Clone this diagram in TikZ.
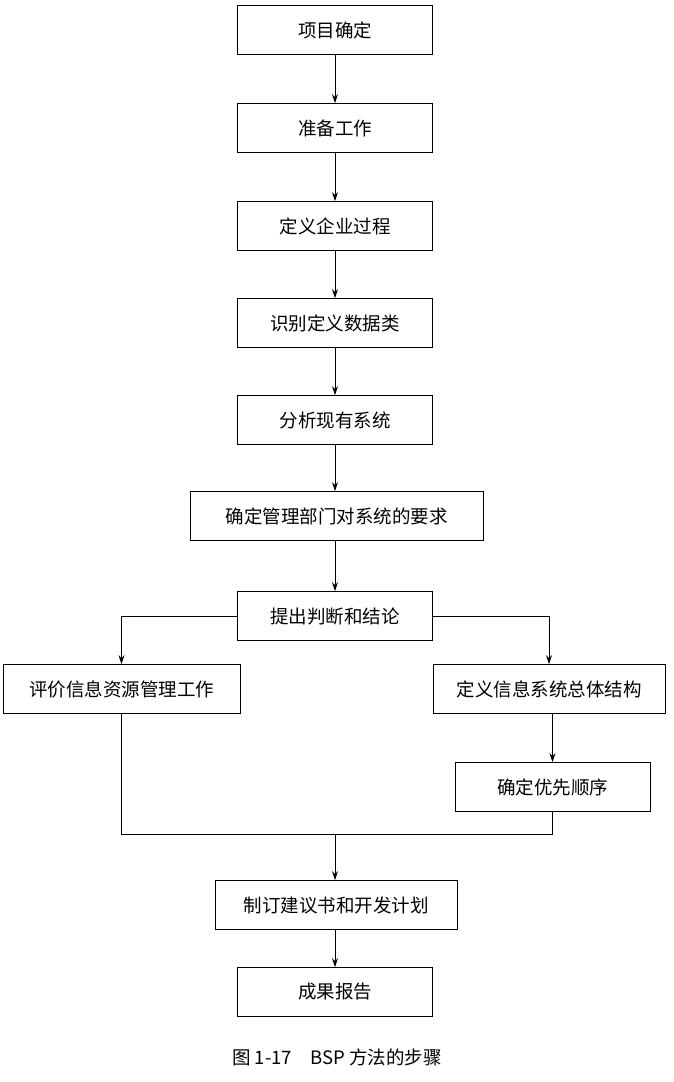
\documentclass[tikz,border=0pt]{standalone}
\usepackage{fontspec}
\setmainfont{Liberation Serif}
\newfontfamily\cjk{Noto Sans CJK SC}
\usetikzlibrary{arrows.meta}
\begin{document}
\begin{tikzpicture}[x=1pt,y=-1pt,
  box/.style={draw,line width=0.8pt,minimum height=49pt,inner sep=0pt,font=\cjk\fontsize{18.5}{21}\selectfont},
  arr/.style={-{Stealth[length=9pt,width=6pt]},line width=0.8pt},
  ln/.style={line width=0.8pt}]
\useasboundingbox (0,0) rectangle (673,1082);
\node[box,minimum width=195pt] (a) at (335,30) {项目确定};
\node[box,minimum width=195pt] (b) at (335,128) {准备工作};
\node[box,minimum width=195pt] (c) at (335,226) {定义企业过程};
\node[box,minimum width=195pt] (d) at (335,323) {识别定义数据类};
\node[box,minimum width=195pt] (e) at (335,420) {分析现有系统};
\node[box,minimum width=293pt] (f) at (336.5,516) {确定管理部门对系统的要求};
\node[box,minimum width=195pt] (g) at (335,616) {提出判断和结论};
\node[box,minimum width=237pt] (h) at (121.5,689) {评价信息资源管理工作};
\node[box,minimum width=232pt] (i) at (549,689) {定义信息系统总体结构};
\node[box,minimum width=195pt] (j) at (552.5,787) {确定优先顺序};
\node[box,minimum width=242pt] (k) at (336,905) {制订建议书和开发计划};
\node[box,minimum width=195pt] (l) at (335,992) {成果报告};
\node[font=\cjk\fontsize{18.5}{21}\selectfont] (cap) at (337,1057) {图 1-17\quad BSP 方法的步骤};
\draw[arr] (a) -- (b);
\draw[arr] (b) -- (c);
\draw[arr] (c) -- (d);
\draw[arr] (d) -- (e);
\draw[arr] (e.south) -- (e.south |- f.north);
\draw[arr] (f.south -| g.north) -- (g);
\draw[arr] (g.west) -| (h.north);
\draw[arr] (g.east) -| (i.north);
\draw[arr] (i.south -| j.north) -- (j.north);
\coordinate (m) at (335,834);
\draw[ln] (h.south) |- (m) -| (j.south);
\draw[arr] (m) -- (m |- k.north);
\draw[arr] (k.south -| l.north) -- (l);
\end{tikzpicture}
\end{document}
